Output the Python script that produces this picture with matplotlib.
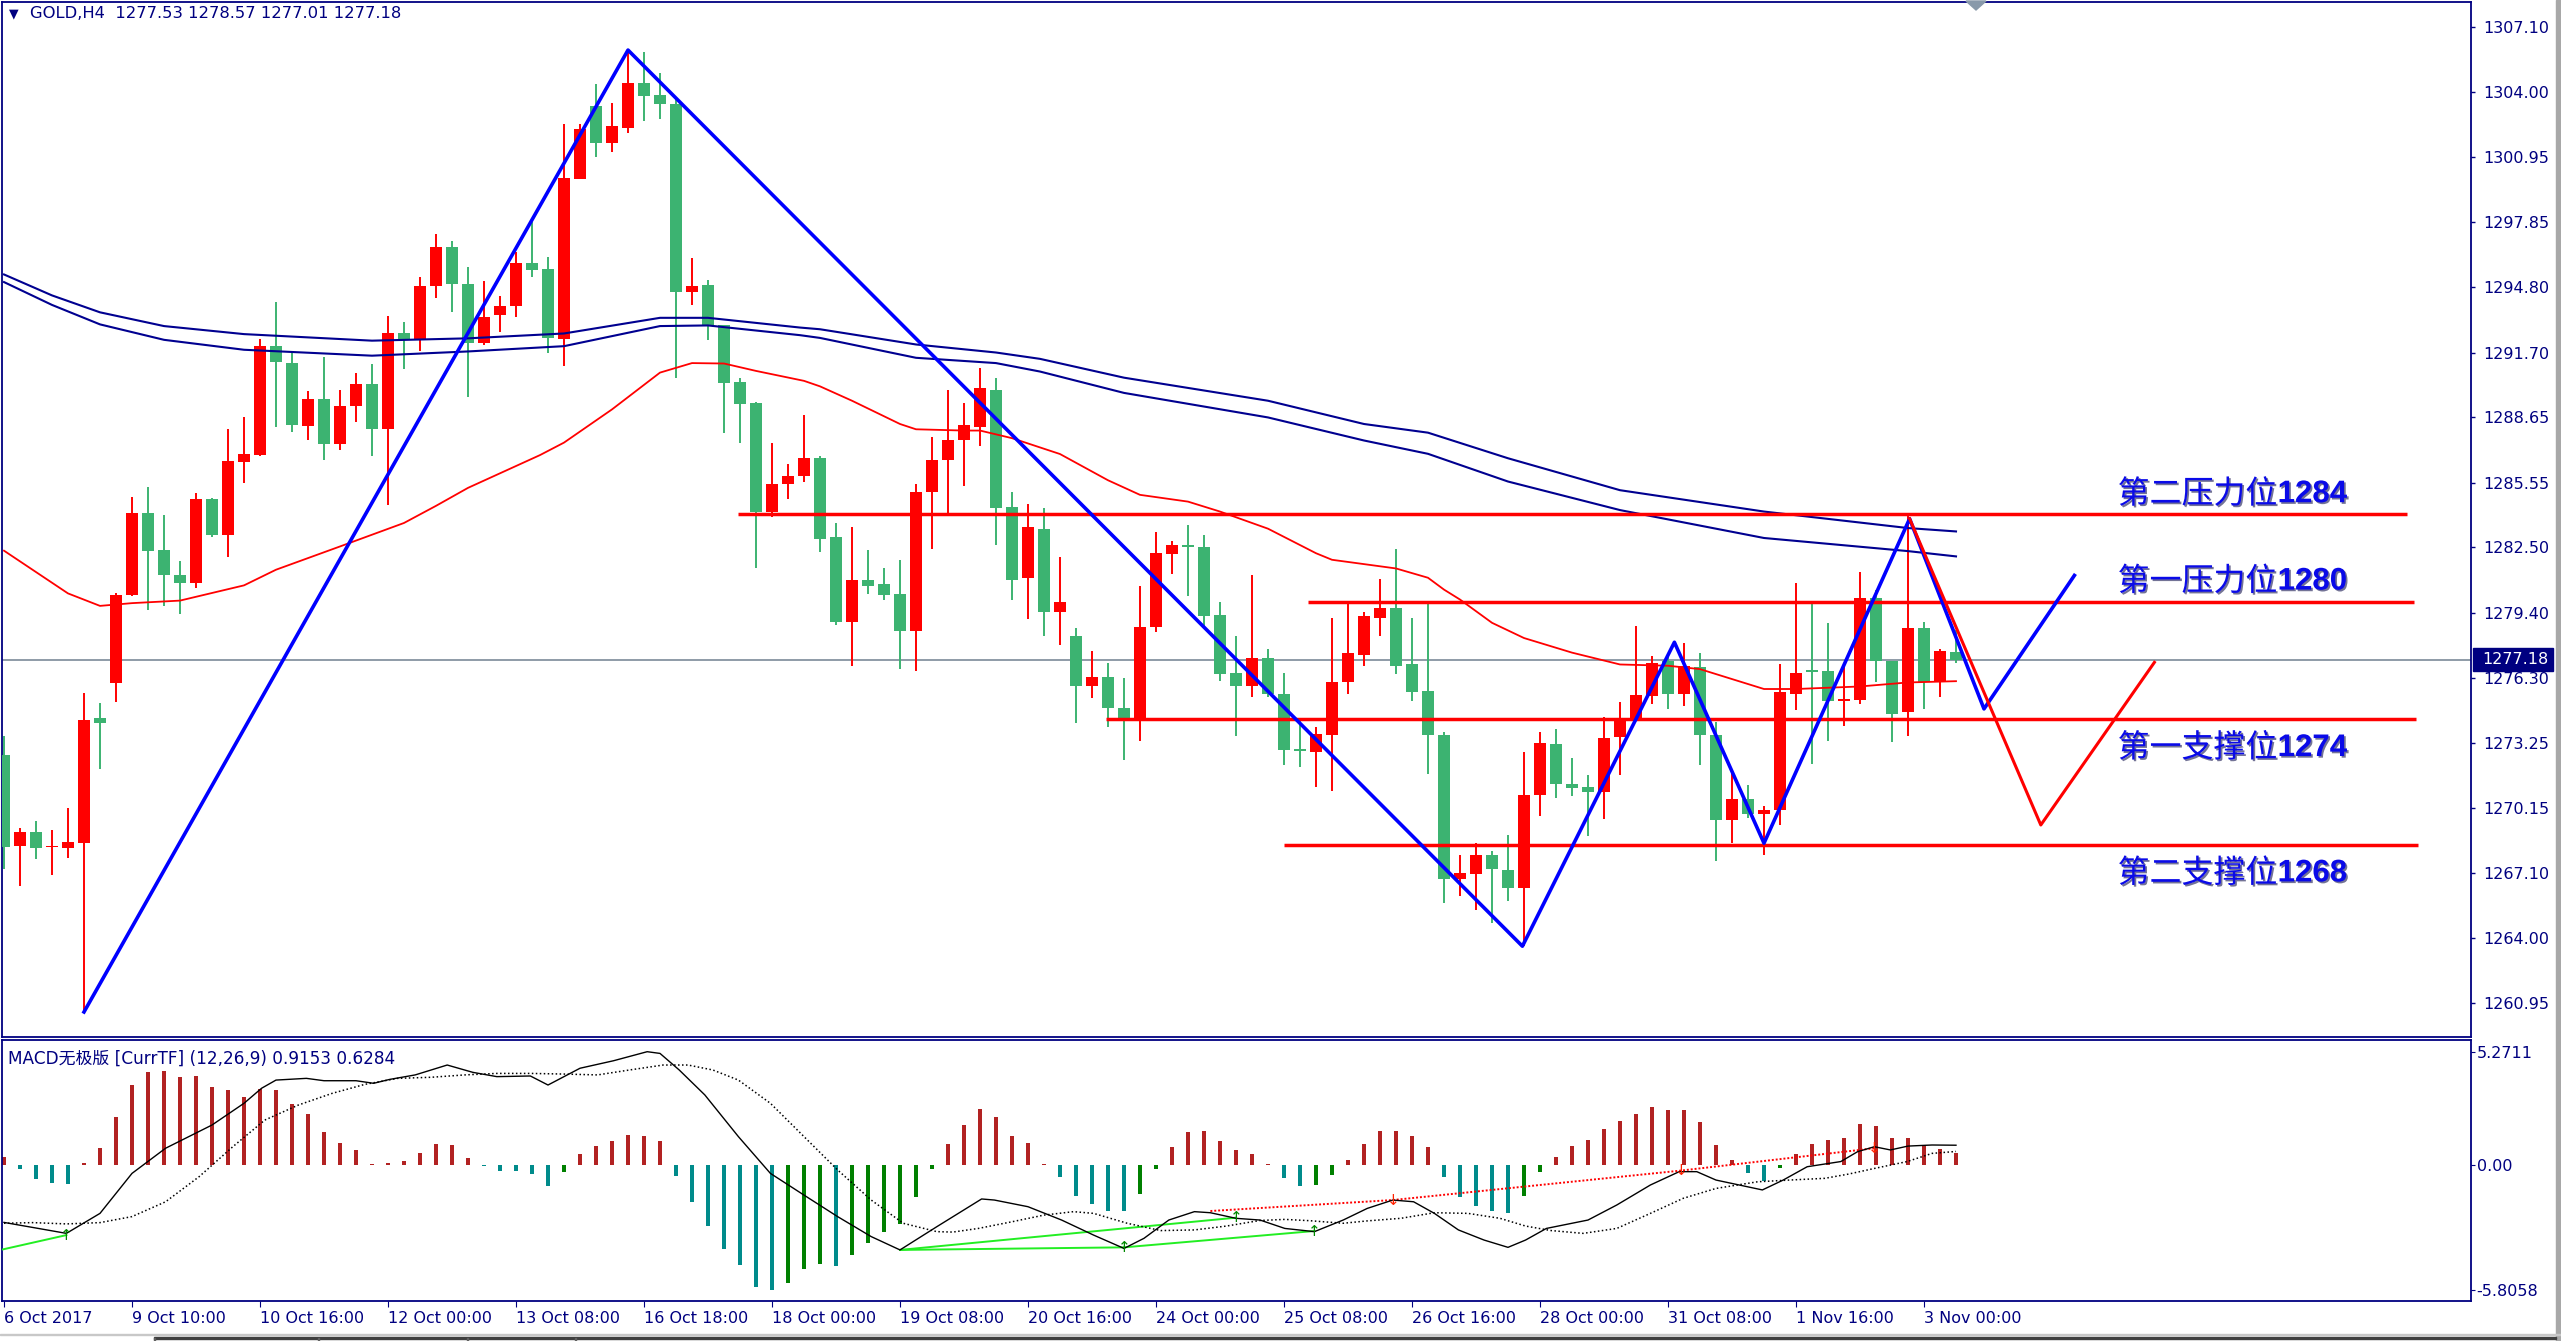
import numpy as np
import matplotlib.pyplot as plt
import matplotlib.patheffects as pe
from matplotlib import transforms
from matplotlib.patches import Rectangle, Polygon

plt.rcParams['font.family'] = ['DejaVu Sans', 'Noto Sans CJK SC']

# ---- candles (GOLD H4) ----
opens = [1272.68, 1268.38, 1269.02, 1268.30, 1268.25, 1268.53, 1274.40, 1276.08, 1280.23, 1284.10,
         1282.36, 1281.20, 1280.82, 1284.76, 1283.05, 1286.53, 1286.86, 1292.01, 1291.21, 1288.22,
         1289.52, 1287.37, 1289.16, 1290.19, 1288.07, 1292.60, 1292.34, 1294.85, 1296.69, 1294.93,
         1292.14, 1293.49, 1293.90, 1295.95, 1295.65, 1292.33, 1299.91, 1303.36, 1301.60, 1302.32,
         1304.45, 1303.89, 1303.45, 1294.55, 1294.87, 1292.99, 1290.32, 1289.29, 1284.15, 1285.50,
         1285.88, 1286.72, 1282.96, 1278.98, 1280.93, 1280.74, 1280.27, 1278.55, 1285.12, 1286.63,
         1287.54, 1288.16, 1289.95, 1284.40, 1281.02, 1283.37, 1279.45, 1278.30, 1275.92, 1276.38,
         1274.88, 1274.44, 1278.73, 1282.15, 1282.56, 1282.49, 1279.27, 1276.54, 1275.92, 1277.26,
         1275.54, 1272.93, 1272.81, 1273.60, 1276.10, 1277.42, 1279.17, 1279.64, 1276.95, 1275.69,
         1273.60, 1266.83, 1267.02, 1267.96, 1267.24, 1266.39, 1270.78, 1273.19, 1271.31, 1271.15,
         1270.93, 1273.50, 1274.38, 1275.48, 1277.10, 1275.54, 1276.85, 1273.60, 1269.62, 1270.59,
         1269.90, 1270.09, 1275.57, 1276.66, 1276.63, 1275.22, 1275.29, 1280.08, 1277.13, 1274.69,
         1278.67, 1276.10, 1277.53]
highs = [1273.57, 1269.22, 1269.55, 1269.14, 1270.17, 1275.62, 1275.11, 1280.31, 1284.89, 1285.33,
         1284.02, 1281.82, 1285.07, 1284.80, 1288.07, 1288.63, 1292.34, 1294.11, 1291.75, 1289.88,
         1291.50, 1289.93, 1290.73, 1291.14, 1293.44, 1293.13, 1295.28, 1297.31, 1296.95, 1295.72,
         1295.08, 1294.39, 1296.44, 1297.85, 1296.21, 1302.51, 1302.51, 1304.39, 1303.51, 1305.93,
         1305.93, 1304.92, 1303.67, 1296.18, 1295.12, 1293.00, 1290.51, 1289.35, 1287.44, 1286.44,
         1288.76, 1286.81, 1283.62, 1283.43, 1282.37, 1281.49, 1281.87, 1285.50, 1287.69, 1289.95,
         1289.32, 1290.98, 1290.48, 1285.12, 1284.56, 1284.34, 1282.02, 1278.67, 1277.58, 1277.04,
         1276.29, 1280.64, 1283.21, 1282.81, 1283.56, 1283.06, 1279.89, 1278.30, 1281.18, 1277.67,
         1276.57, 1274.38, 1273.97, 1279.17, 1279.92, 1279.45, 1281.00, 1282.43, 1279.14, 1279.92,
         1273.75, 1267.96, 1268.49, 1268.12, 1268.90, 1272.81, 1273.75, 1273.91, 1272.53, 1271.72,
         1274.47, 1275.16, 1278.77, 1277.35, 1277.35, 1277.98, 1277.48, 1274.22, 1271.87, 1271.25,
         1270.24, 1276.98, 1280.80, 1279.80, 1278.92, 1277.04, 1281.33, 1280.49, 1277.13, 1284.09,
         1278.98, 1277.67, 1278.57]
lows = [1267.30, 1266.46, 1267.74, 1267.00, 1267.82, 1260.52, 1272.00, 1275.16, 1280.20, 1279.54,
        1279.72, 1279.34, 1280.56, 1283.00, 1282.02, 1285.53, 1286.80, 1288.17, 1287.96, 1287.55,
        1286.63, 1287.07, 1288.42, 1286.81, 1284.51, 1290.91, 1291.75, 1294.29, 1293.62, 1289.58,
        1292.06, 1292.67, 1293.36, 1295.29, 1291.67, 1291.04, 1299.90, 1300.95, 1301.16, 1302.07,
        1302.64, 1302.73, 1290.50, 1293.93, 1292.30, 1287.91, 1287.44, 1281.52, 1283.93, 1284.78,
        1285.60, 1282.27, 1278.83, 1276.89, 1280.30, 1279.99, 1276.73, 1276.63, 1282.43, 1284.06,
        1285.41, 1287.29, 1282.59, 1280.02, 1279.08, 1278.30, 1277.89, 1274.16, 1275.38, 1274.00,
        1272.44, 1273.35, 1278.48, 1281.24, 1280.17, 1278.77, 1276.16, 1273.59, 1275.41, 1275.41,
        1272.19, 1272.09, 1271.18, 1270.99, 1275.54, 1276.86, 1278.30, 1276.48, 1275.22, 1271.78,
        1265.67, 1265.98, 1265.36, 1264.73, 1265.76, 1263.63, 1269.77, 1270.62, 1270.71, 1268.83,
        1269.65, 1271.72, 1274.28, 1275.07, 1274.85, 1274.97, 1272.19, 1267.64, 1268.52, 1269.68,
        1267.96, 1269.37, 1274.82, 1272.25, 1273.35, 1274.06, 1275.10, 1276.10, 1273.28, 1273.59,
        1274.85, 1275.41, 1277.01]
closes = [1268.33, 1269.02, 1268.25, 1268.36, 1268.56, 1274.34, 1274.19, 1280.23, 1284.10, 1282.33,
          1281.18, 1280.82, 1284.76, 1283.05, 1286.55, 1286.89, 1292.01, 1291.24, 1288.27, 1289.52,
          1287.37, 1289.19, 1290.19, 1288.07, 1292.60, 1292.34, 1294.85, 1296.69, 1294.93, 1292.14,
          1293.39, 1293.88, 1295.95, 1295.60, 1292.39, 1299.97, 1302.26, 1301.60, 1302.39, 1304.45,
          1303.83, 1303.45, 1294.55, 1294.84, 1292.96, 1290.26, 1289.26, 1284.15, 1285.50, 1285.88,
          1286.69, 1282.90, 1278.98, 1280.96, 1280.68, 1280.24, 1278.55, 1285.09, 1286.63, 1287.54,
          1288.26, 1290.01, 1284.37, 1280.96, 1283.43, 1279.45, 1279.89, 1275.92, 1276.38, 1274.88,
          1274.44, 1278.70, 1282.21, 1282.59, 1282.50, 1279.24, 1276.48, 1275.92, 1277.26, 1275.54,
          1272.91, 1272.88, 1273.66, 1276.10, 1277.48, 1279.23, 1279.64, 1276.86, 1275.63, 1273.60,
          1266.80, 1267.08, 1267.96, 1267.30, 1266.39, 1270.78, 1273.22, 1271.31, 1271.09, 1270.93,
          1273.47, 1274.38, 1275.51, 1277.04, 1275.54, 1276.88, 1273.60, 1269.62, 1270.59, 1269.90,
          1270.06, 1275.67, 1276.57, 1276.60, 1275.22, 1275.32, 1280.08, 1277.10, 1274.63, 1278.67,
          1276.10, 1277.61, 1277.18]

# moving averages (bar, price)
red_ma_x = [0, 4, 6, 8, 11, 15, 17, 21, 25, 27, 29, 33.5, 35, 38, 41, 43, 45, 47, 50, 51,
            53, 56, 57, 60, 61, 63, 66, 69, 71, 74, 76, 79, 82, 83, 87, 89, 90, 91, 93, 95,
            98, 101, 104, 106, 108, 110, 112, 116, 119, 122]
red_ma_y = [1282.33, 1280.31, 1279.72, 1279.85, 1279.97, 1280.69, 1281.43, 1282.53, 1283.64, 1284.45,
            1285.30, 1286.85, 1287.44, 1289.01, 1290.75, 1291.20, 1291.18, 1290.83, 1290.36, 1290.10,
            1289.42, 1288.32, 1288.07, 1288.01, 1288.01, 1287.65, 1286.90, 1285.66, 1284.97, 1284.65,
            1284.18, 1283.37, 1282.21, 1281.90, 1281.49, 1281.05, 1280.49, 1280.02, 1278.92, 1278.20,
            1277.51, 1276.95, 1276.89, 1276.73, 1276.26, 1275.79, 1275.79, 1275.91, 1276.10, 1276.16]
blue_x = [0, 3, 6, 10, 15, 23, 29, 35, 41, 44, 49.75, 51, 57, 62, 64.75, 70, 79, 85, 89, 94, 101, 110, 119, 122]
blue_up = [1295.39, 1294.40, 1293.60, 1292.95, 1292.57, 1292.26, 1292.37, 1292.60, 1293.34, 1293.34,
           1292.88, 1292.80, 1292.08, 1291.70, 1291.40, 1290.51, 1289.42, 1288.32, 1287.91, 1286.70,
           1285.19, 1284.18, 1283.40, 1283.24]
blue_lo = [1295.03, 1293.95, 1293.03, 1292.30, 1291.83, 1291.55, 1291.75, 1292.00, 1292.95, 1292.98,
           1292.52, 1292.39, 1291.45, 1291.20, 1290.80, 1289.79, 1288.63, 1287.54, 1286.91, 1285.60,
           1284.25, 1282.93, 1282.31, 1282.06]

# hand-drawn analysis lines
zig_x = [5, 39, 94.9, 104.4, 110, 119.1, 123.75, 129.4]
zig_y = [1260.52, 1306.0, 1263.63, 1278.0, 1268.5, 1283.84, 1274.85, 1281.16]
proj_x = [119.1, 127.3, 134.4]
proj_y = [1283.84, 1269.36, 1277.05]
levels = [1284.05, 1279.92, 1274.35, 1268.42]
level_from = [45.9, 81.5, 68.9, 80.0]
level_to = [150.2, 150.6, 150.75, 150.9]
level_names = ['第二压力位', '第一压力位', '第一支撑位', '第二支撑位']
level_nums = ['1284', '1280', '1274', '1268']

price_ticks = [1307.10, 1304.00, 1300.95, 1297.85, 1294.80, 1291.70, 1288.65, 1285.55,
               1282.50, 1279.40, 1276.30, 1273.25, 1270.15, 1267.10, 1264.00, 1260.95]
date_ticks = [0, 8, 16, 24, 32, 40, 48, 56, 64, 72, 80, 88, 96, 104, 112, 120]
date_labels = ['6 Oct 2017', '9 Oct 10:00', '10 Oct 16:00', '12 Oct 00:00', '13 Oct 08:00',
               '16 Oct 18:00', '18 Oct 00:00', '19 Oct 08:00', '20 Oct 16:00', '24 Oct 00:00',
               '25 Oct 08:00', '26 Oct 16:00', '28 Oct 00:00', '31 Oct 08:00', '1 Nov 16:00',
               '3 Nov 00:00']

# ---- MACD ----
hist = [0.39, -0.19, -0.65, -0.84, -0.88, 0.09, 0.79, 2.23, 3.72, 4.33,
        4.37, 4.08, 4.14, 3.63, 3.49, 3.16, 3.52, 3.49, 2.84, 2.37,
        1.53, 1.02, 0.70, 0.06, 0.08, 0.19, 0.56, 0.98, 0.93, 0.34,
        -0.03, -0.26, -0.27, -0.40, -0.96, -0.31, 0.51, 0.88, 1.13, 1.40,
        1.35, 1.13, -0.50, -1.71, -2.82, -3.89, -4.64, -5.66, -5.81, -5.50,
        -4.82, -4.59, -4.68, -4.20, -3.64, -3.10, -2.74, -1.47, -0.20, 0.98,
        1.86, 2.60, 2.23, 1.35, 1.02, 0.03, -0.54, -1.43, -1.83, -2.12,
        -2.13, -1.33, -0.17, 0.84, 1.53, 1.58, 1.12, 0.70, 0.50, 0.05,
        -0.60, -0.96, -0.92, -0.45, 0.23, 0.98, 1.58, 1.58, 1.35, 0.84,
        -0.54, -1.47, -1.89, -2.12, -2.22, -1.43, -0.31, 0.39, 0.88, 1.16,
        1.69, 2.06, 2.37, 2.70, 2.56, 2.56, 2.00, 0.91, 0.23, -0.37,
        -0.74, -0.12, 0.51, 0.98, 1.16, 1.26, 1.91, 1.81, 1.26, 1.26,
        0.88, 0.74, 0.57]
macd_x = [0, 3.9, 6, 8, 10.1, 13, 15, 16.1, 17, 18.9, 20, 22, 23.1, 24.1, 25.7, 27.7, 29.3, 30.8,
          32.9, 34, 36, 38.1, 40.2, 41, 42.2, 43.8, 45.9, 47.9, 50, 52.1, 54.2, 56, 58.3, 61.1,
          61.9, 64, 66.1, 68.1, 70, 71.25, 72.8, 74.4, 75.4, 77, 78.5, 80.05, 81.9, 83.7, 85.2,
          86.8, 88.1, 89.4, 90.9, 92.5, 94, 95.1, 96.4, 99, 100.8, 102.9, 104.7, 105.8, 107,
          109.9, 111.2, 112.7, 114.8, 115.85, 116.9, 117.9, 119, 120.5, 122]
macd_v = [-2.67, -3.18, -2.25, -0.39, 0.78, 1.86, 2.87, 3.57, 3.95, 4.03, 3.92, 3.92, 3.80, 3.98,
          4.19, 4.65, 4.31, 4.11, 4.14, 3.72, 4.50, 4.85, 5.27, 5.19, 4.42, 3.26, 1.32, -0.39,
          -1.40, -2.40, -3.33, -3.95, -2.87, -1.58, -1.63, -1.94, -2.56, -3.26, -3.88, -3.41,
          -2.56, -2.17, -2.22, -2.48, -2.56, -2.95, -3.10, -2.56, -2.02, -1.63, -1.71, -2.25,
          -3.02, -3.49, -3.83, -3.49, -2.95, -2.56, -1.86, -0.93, -0.31, -0.31, -0.70, -1.16,
          -0.70, -0.08, 0.16, 0.62, 0.85, 0.70, 0.88, 0.93, 0.92]
sig_x = [0, 1.8, 3.9, 6, 8, 10.1, 12.2, 14.3, 16.3, 18.4, 20.5, 22.55, 24.6, 26.7, 28.8, 30.8,
         32.9, 35, 37.1, 39.1, 41.2, 42.75, 44.3, 45.9, 47.9, 50, 52.1, 54.2, 56.2, 58.3, 59.3,
         60.9, 63, 65, 66.85, 68.1, 70.2, 72.3, 74.4, 76.4, 78.5, 80.05, 81.6, 83.7, 85.2, 87.3,
         89.4, 91.5, 93.5, 95.1, 96.7, 98.7, 100.8, 102.9, 104.95, 107, 109.6, 111.6, 113.8,
         115.3, 116.9, 118.95, 120.5, 122]
sig_v = [-2.71, -2.68, -2.74, -2.68, -2.40, -1.71, -0.54, 0.85, 2.09, 2.79, 3.33, 3.75, 4.03,
         4.08, 4.19, 4.26, 4.26, 4.23, 4.19, 4.42, 4.65, 4.65, 4.42, 3.95, 2.87, 1.32, -0.23,
         -1.63, -2.71, -3.10, -3.12, -2.95, -2.64, -2.33, -2.17, -2.25, -2.71, -3.05, -3.02,
         -2.84, -2.58, -2.53, -2.59, -2.71, -2.60, -2.48, -2.22, -2.25, -2.48, -2.84, -3.05,
         -3.18, -2.95, -2.25, -1.55, -1.09, -0.78, -0.70, -0.62, -0.42, -0.16, 0.16, 0.54, 0.63]
# divergence lines
green_lines = [([-0.1, 3.9], [-3.93, -3.26]), ([56, 70], [-3.95, -3.83]),
               ([70, 81.9], [-3.83, -3.07]), ([56, 77], [-3.95, -2.45])]
red_div_x = [75.4, 86.8, 104.8, 116.9]
red_div_y = [-2.14, -1.63, -0.26, 0.78]
up_arrow_x = [3.9, 70, 77, 81.9]
up_arrow_y = [-3.26, -3.83, -2.45, -3.07]

NAVY = '#000080'
BULL = '#ff0000'
BEAR = '#3cb371'

W, H = 2561, 1341
fig = plt.figure(figsize=(W / 100, H / 100), dpi=100, facecolor='white')


def add_ax(x0, y0, x1, y1):
    return fig.add_axes([x0 / W, 1 - y1 / H, (x1 - x0) / W, (y1 - y0) / H])


ax = add_ax(2, 2, 2471, 1037)
mx = add_ax(2, 1040, 2471, 1301)
xlim = ((2 - 4) / 16, (2471 - 4) / 16)

# ---- price panel ----
o = np.array(opens)
h = np.array(highs)
l = np.array(lows)
c = np.array(closes)
idx = np.arange(len(o))
cols = np.where(c >= o, BULL, BEAR)
ax.vlines(idx, l, h, colors=cols, lw=1.4, zorder=3)
ax.bar(idx, np.maximum(np.abs(c - o), 0.09), bottom=np.minimum(o, c), width=0.69,
       color=cols, lw=0, zorder=4)

ax.axhline(c[-1], color='#708090', lw=1.1, zorder=2)
ax.plot(red_ma_x, red_ma_y, color='#ff0000', lw=1.3, zorder=5)
ax.plot(blue_x, blue_up, color='#000090', lw=1.5, zorder=5)
ax.plot(blue_x, blue_lo, color='#000090', lw=1.5, zorder=5)

for lv, x0, x1 in zip(levels, level_from, level_to):
    ax.plot([x0, x1], [lv, lv], color='#ff0000', lw=2.5, zorder=6, solid_capstyle='butt')

ax.plot(zig_x, zig_y, color='#0000ff', lw=2.6, zorder=7)
ax.plot(proj_x, proj_y, color='#ff0000', lw=2.2, zorder=7)

shadow = [pe.withSimplePatchShadow(offset=(1.2, -1.2), shadow_rgbFace='#000040', alpha=0.55)]
for k, (lv, name, num) in enumerate(zip(levels, level_names, level_nums)):
    dy = 0.95 if k < 2 else -1.35
    t1 = ax.text(132.1, lv + dy, name, color='#0a0ae8', fontsize=23, fontweight='medium',
                 family=['Noto Sans CJK SC', 'DejaVu Sans'], va='center', ha='left',
                 zorder=8, path_effects=shadow)
    ax.annotate(num, xy=(1, 0.5), xycoords=t1, xytext=(0, 0), textcoords='offset points',
                color='#0a0ae8', fontsize=22.5, fontweight='bold', family='Liberation Sans',
                va='center', ha='left', zorder=8, path_effects=shadow)

ax.set_xlim(*xlim)
ax.set_ylim(1307.10 - (1037 - 26.8) / 21.15, 1307.10 + (26.8 - 2) / 21.15)
ax.yaxis.tick_right()
ax.set_yticks(price_ticks)
ax.set_yticklabels([f'{p:.2f}' for p in price_ticks])
ax.tick_params(axis='y', direction='out', length=3, width=1, color=NAVY,
               labelcolor=NAVY, labelsize=11.5, pad=6)
ax.set_xticks([])
for s in ax.spines.values():
    s.set_color(NAVY)
    s.set_linewidth(1.3)

# current price box on the scale
trans = transforms.blended_transform_factory(ax.transAxes, ax.transData)
ax.add_patch(Rectangle((1.0008, c[-1] - 0.55), 80 / 2469, 1.1, transform=trans,
                       color=NAVY, clip_on=False, zorder=10))
ax.text(1.0008 + 9 / 2469, c[-1], f'{c[-1]:.2f}', transform=trans, color='white',
        fontsize=11.5, va='center', ha='left', clip_on=False, zorder=11)

ax.text(0.003, 0.9885, '▼', transform=ax.transAxes, color=NAVY, fontsize=9, va='center')
ax.text(0.0115, 0.9885, f'GOLD,H4  {o[-1]:.2f} {h[-1]:.2f} {l[-1]:.2f} {c[-1]:.2f}',
        transform=ax.transAxes, color=NAVY, fontsize=11.8, va='center')

# ---- MACD panel ----
hv = np.array(hist)
prev = np.concatenate([[hv[0]], hv[:-1]])
hcols = np.where(hv >= 0, '#b22222', np.where(hv < prev, '#008b8b', '#008000'))
mx.bar(idx, hv, width=0.2, color=hcols, lw=0, zorder=2)
mx.plot(macd_x, macd_v, color='black', lw=1.0, zorder=4)
mx.plot(sig_x, sig_v, color='black', lw=1.1, ls=(0, (1, 1.6)), zorder=4)
for gx, gy in green_lines:
    mx.plot(gx, gy, color='#22ee22', lw=1.4, zorder=3)
mx.plot(red_div_x, red_div_y, color='#ff0000', lw=1.4, ls=(0, (1, 1)), zorder=3)
for x, y in zip(up_arrow_x, up_arrow_y):
    mx.text(x, y, '↑', color='#008800', fontsize=11, ha='center', va='center', zorder=5)
for x, y in zip(red_div_x[1:], red_div_y[1:]):
    mx.text(x, y, '↓', color='#ff2200', fontsize=11, ha='center', va='center', zorder=5)

mx.set_xlim(*xlim)
mx.set_ylim(-136 / 21.5, 125 / 21.5)
mx.yaxis.tick_right()
mx.set_yticks([5.2711, 0, -5.8058])
mx.set_yticklabels(['5.2711', '0.00', '-5.8058'])
mx.tick_params(axis='y', direction='out', length=3, color=NAVY, labelcolor=NAVY,
               labelsize=11.5, pad=1)
mx.set_xticks(date_ticks)
mx.set_xticklabels(date_labels)
mx.tick_params(axis='x', direction='out', length=4, color=NAVY, labelcolor=NAVY,
               labelsize=11.5, pad=3)
for lbl in mx.get_xticklabels():
    lbl.set_horizontalalignment('left')
for s in mx.spines.values():
    s.set_color(NAVY)
    s.set_linewidth(1.3)
mx.text(0.0025, 0.93, 'MACD无极版 [CurrTF] (12,26,9) 0.9153 0.6284', transform=mx.transAxes,
        color=NAVY, fontsize=12.2, va='center', family=['DejaVu Sans', 'Noto Sans CJK SC'])

# window chrome: shift marker, right strip, bottom tab bar
fig.patches.append(Polygon([(1966 / W, 1 - 1 / H), (1986 / W, 1 - 1 / H), (1976 / W, 1 - 10 / H)],
                           closed=True, transform=fig.transFigure, color='#8899aa'))
fig.patches.append(Rectangle((2556 / W, 0), 5 / W, 1, transform=fig.transFigure, color='#a8a8a8'))
fig.patches.append(Rectangle((0, 6 / H), 1, 1.5 / H, transform=fig.transFigure, color='#c8c8c8'))
fig.patches.append(Rectangle((154 / W, 2.5 / H), (2556 - 154) / W, 1.2 / H,
                             transform=fig.transFigure, color='#404040'))
for sx in [154, 318, 467, 575]:
    fig.patches.append(Rectangle((sx / W, 0), 1.2 / W, 3.5 / H, transform=fig.transFigure,
                                 color='#606060'))

fig.savefig('out.png', dpi=100, facecolor='white')
